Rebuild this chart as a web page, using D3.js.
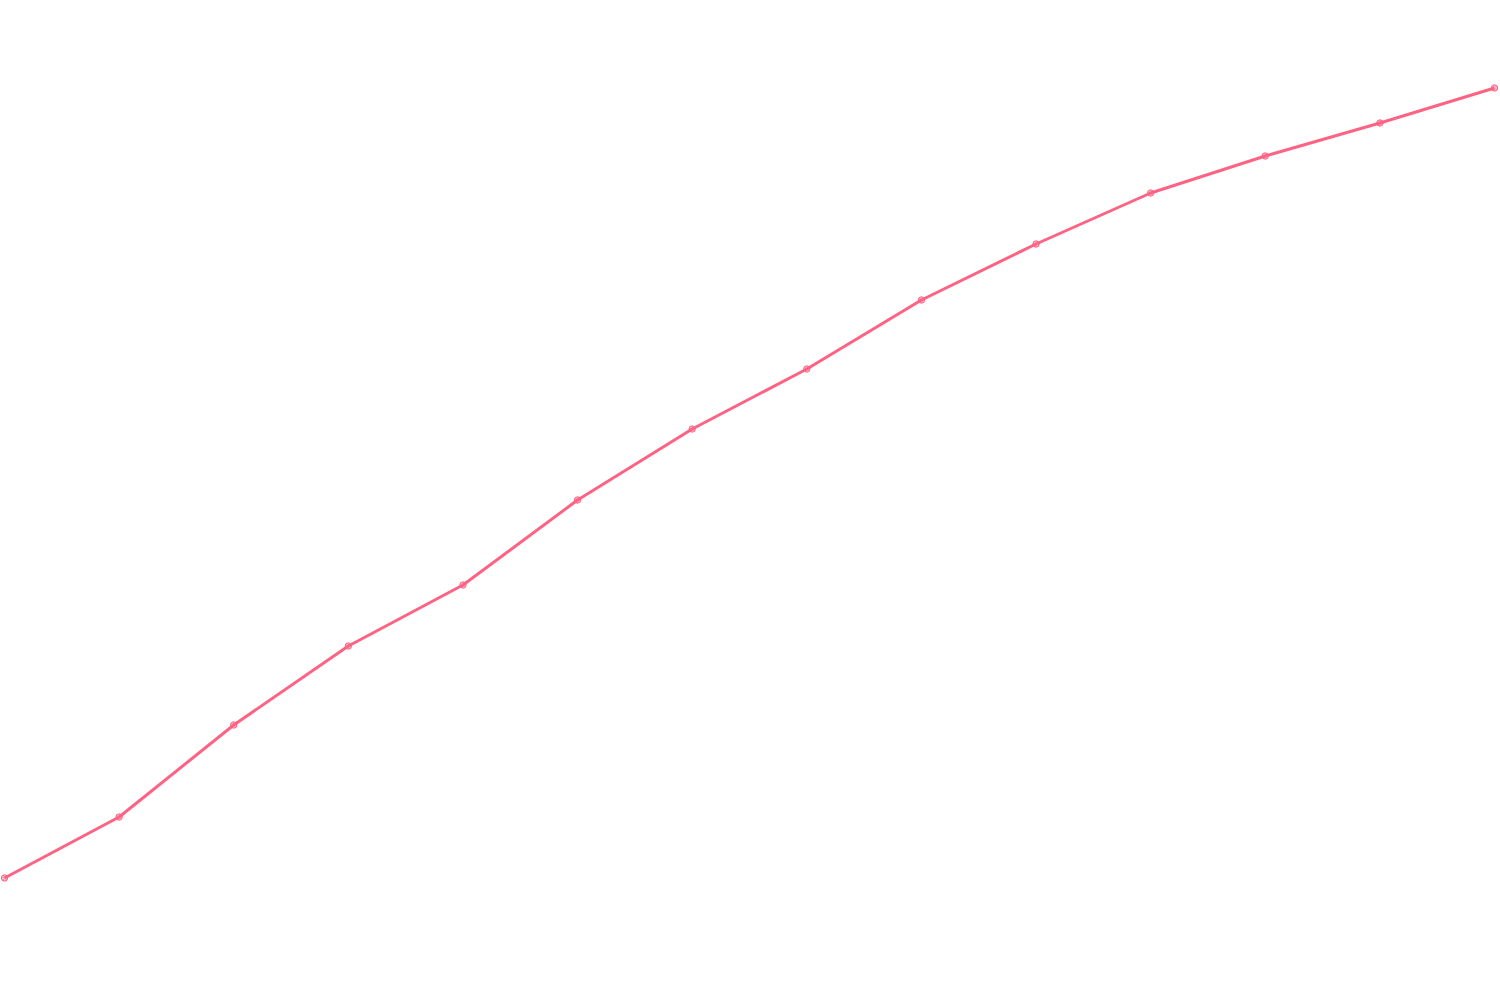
<!DOCTYPE html>
<html>
<head>
<meta charset="utf-8">
<script src="https://cdn.jsdelivr.net/npm/d3@7"></script>
<style>
  html, body { margin: 0; padding: 0; background: #fff; }
  svg { display: block; }
</style>
</head>
<body>
<svg id="chart" width="1500" height="1000"></svg>
<script>
const categories = ["1","2","3","4","5","6","7","8","9","10","11","12","13","14"];
const values = [122, 183, 275, 354, 415, 500, 571, 631, 700, 756, 807, 844, 877, 912];

const svg = d3.select("#chart");
const x = d3.scalePoint().domain(categories).range([4.5, 1494.5]);
const y = d3.scaleLinear().domain([0, 1000]).range([1000, 0]);

const data = categories.map((c, i) => ({ c, v: values[i] }));

svg.append("path")
  .datum(data)
  .attr("fill", "none")
  .attr("stroke", "rgb(255,99,132)")
  .attr("stroke-width", 3)
  .attr("stroke-linejoin", "round")
  .attr("d", d3.line().x(d => x(d.c)).y(d => y(d.v)));

svg.selectAll("circle")
  .data(data)
  .join("circle")
  .attr("cx", d => x(d.c))
  .attr("cy", d => y(d.v))
  .attr("r", 3.2)
  .attr("fill", "rgba(255,99,132,0.5)")
  .attr("stroke", "rgb(255,99,132)")
  .attr("stroke-width", 1);
</script>
</body>
</html>
